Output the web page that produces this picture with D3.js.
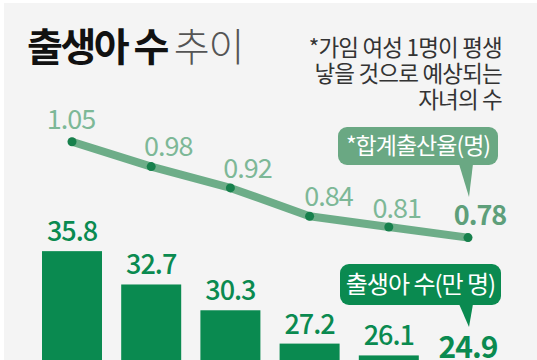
<!DOCTYPE html>
<html><head><meta charset="utf-8">
<script src="https://cdn.jsdelivr.net/npm/d3@7"></script>
<style>html,body{margin:0;padding:0;background:#fff;}svg{display:block;}</style>
</head><body>
<svg id="c" width="537" height="360"></svg>
<script>
const years = ["2017","2018","2019","2020","2021","2022"];
const births = [35.8, 32.7, 30.3, 27.2, 26.1, 24.9];       // 만 명
const rates = [1.05, 0.98, 0.92, 0.84, 0.81, 0.78];         // 합계출산율(명)
const birthLabels = ["35.8","32.7","30.3","27.2","26.1","24.9"];
const rateLabels = ["1.05","0.98","0.92","0.84","0.81","0.78"];
const titleBold = "출생아 수";
const titleLight = "추이";
const noteLines = ["*가임 여성 1명이 평생", "낳을 것으로 예상되는", "자녀의 수"];
const rateTag = "*합계출산율(명)";
const birthTag = "출생아 수(만 명)";

// label nudges (layout only)
const rateLabelDx = [-1, 17, 17, 19, 8, 12];
const rateLabelGap = [13, 11, 10, 10, 9, 13];

const FONT = "'Noto Sans CJK KR','Noto Sans',sans-serif";
const svg = d3.select("#c");
svg.append("rect").attr("x",4).attr("y",3).attr("width",533).attr("height",357).attr("fill","#f4f4f4");

const x = d3.scaleBand().domain(years).range([32.4, 507.6]).paddingInner(0.2424).paddingOuter(0.1212);
const yBar = d3.scaleLinear().domain([0, 40]).range([636, 206]);
const yRate = d3.scaleLinear().domain([0.7, 1.1]).range([266, 124]);
const cx = d => x(d) + x.bandwidth()/2;

// title
const t = svg.append("text").attr("x",27).attr("y",61).attr("font-family",FONT);
t.append("tspan").text(titleBold).attr("font-size",39).attr("font-weight",700).attr("fill","#111").attr("letter-spacing",-2.5);
t.append("tspan").text(" ").attr("font-size",39).attr("letter-spacing",-2);
t.append("tspan").text(titleLight).attr("font-size",39).attr("font-weight",300).attr("fill","#555").attr("letter-spacing",-1);

// note
svg.append("g").selectAll("text").data(noteLines).join("text")
  .attr("x",502).attr("y",(d,i)=>56+i*26).attr("text-anchor","end")
  .attr("font-family",FONT).attr("font-size",22.5).attr("font-weight",400).attr("fill","#333").attr("letter-spacing",-0.8)
  .text(d=>d);

// bars
svg.append("g").selectAll("rect").data(births).join("rect")
  .attr("x",(d,i)=>x(years[i])).attr("width",x.bandwidth())
  .attr("y",d=>yBar(d)).attr("height",d=>yBar(0)-yBar(d)).attr("fill","#0a8a50");

svg.append("g").selectAll("text").data(births).join("text")
  .attr("x",(d,i)=>cx(years[i])).attr("y",d=>yBar(d)-10)
  .attr("text-anchor","middle").attr("font-family",FONT)
  .attr("font-size",(d,i)=>i===5?30:27).attr("font-weight",(d,i)=>i===5?700:500)
  .attr("letter-spacing",-1).attr("fill","#0a8a50")
  .text((d,i)=>birthLabels[i]);

// line
const line = d3.line().x((d,i)=>cx(years[i])).y(d=>yRate(d));
svg.append("path").datum(rates).attr("d",line).attr("fill","none")
  .attr("stroke","#6dad88").attr("stroke-width",8).attr("stroke-linejoin","round").attr("stroke-linecap","round");
svg.append("g").selectAll("circle").data(rates).join("circle")
  .attr("cx",(d,i)=>cx(years[i])).attr("cy",d=>yRate(d)).attr("r",4.5).attr("fill","#17804c");

svg.append("g").selectAll("text").data(rates).join("text")
  .attr("x",(d,i)=>cx(years[i])+rateLabelDx[i]).attr("y",(d,i)=>yRate(d)-rateLabelGap[i])
  .attr("text-anchor","middle").attr("font-family",FONT)
  .attr("font-size",27).attr("font-weight",(d,i)=>i===5?700:400)
  .attr("letter-spacing",-1).attr("fill",(d,i)=>i===5?"#5e9f7a":"#7db897")
  .text((d,i)=>rateLabels[i]);

// callouts
function callout(x0,y0,w,h,tipX,tipY,fill,label,fs){
  const g = svg.append("g");
  g.append("rect").attr("x",x0).attr("y",y0).attr("width",w).attr("height",h).attr("rx",9).attr("fill",fill);
  g.append("path").attr("d",`M${tipX-9},${y0+h-1} L${tipX+5},${y0+h-1} L${tipX+1},${tipY} Z`).attr("fill",fill);
  g.append("text").attr("x",x0+w/2).attr("y",y0+h/2+fs*0.36).attr("text-anchor","middle")
    .attr("font-family",FONT).attr("font-size",fs).attr("font-weight",400).attr("fill","#fff").attr("letter-spacing",-1)
    .text(label);
}
const lastX = cx(years[5]);
callout(338,127,160,38,lastX,197,"#6aa883",rateTag,23);
callout(340,264,161,41,lastX,327,"#0a8a50",birthTag,24);
</script>
</body></html>
